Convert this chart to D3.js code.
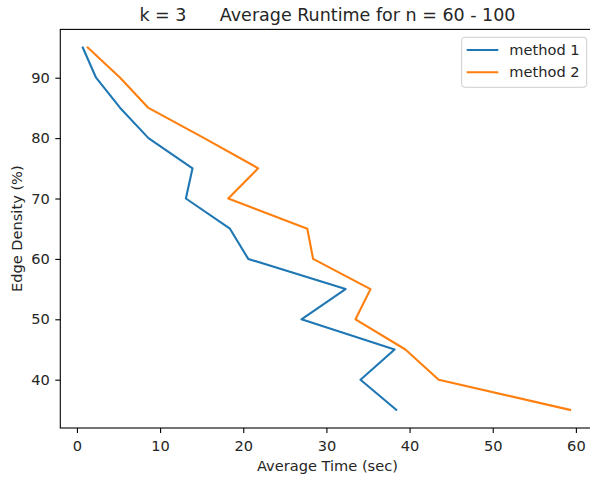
<!DOCTYPE html>
<html>
<head>
<meta charset="utf-8">
<script src="https://cdn.jsdelivr.net/npm/d3@7"></script>
<style>
  body { margin: 0; background: #fff; }
  svg { font-family: "DejaVu Sans", sans-serif; }
</style>
</head>
<body>
<svg id="chart" width="590" height="477"></svg>
<script>
// edge density levels (y) and average runtimes (x)
let densities = [95, 90, 85, 80, 75, 70, 65, 60, 55, 50, 45, 40, 35];
let method1Times = [0.7, 2.3, 5.2, 8.6, 13.9, 13.1, 18.4, 20.6, 32.3, 27.0, 38.2, 34.1, 38.4];
let method2Times = [1.3, 5.2, 8.6, 15.3, 21.8, 18.2, 27.7, 28.4, 35.3, 33.5, 39.5, 43.5, 59.3];
let seriesNames = ['method 1', 'method 2'];
let seriesColors = ['#1f77b4', '#ff7f0e'];
let xTicks = [0, 10, 20, 30, 40, 50, 60];
let yTicks = [40, 50, 60, 70, 80, 90];

const svg = d3.select('#chart');
// axes box (right edge runs off the canvas)
const axLeft = 60.3, axRight = 594.6, axTop = 29.4, axBottom = 428;
const fontSize = 14.6;

const x = d3.scaleLinear().domain([-2.0, 62.25]).range([axLeft, axRight]);
const y = d3.scaleLinear().domain([32, 98]).range([axBottom, axTop]);

// one series = list of [time, density]
let series = [method1Times, method2Times].map(times => times.map((t, i) => [t, densities[i]]));

const line = d3.line().x(d => x(d[0])).y(d => y(d[1]));

svg.append('g').selectAll('path')
    .data(series)
    .enter().append('path')
    .attr('d', line)
    .attr('fill', 'none')
    .attr('stroke', (d, i) => seriesColors[i])
    .attr('stroke-width', 2.1)
    .attr('stroke-linejoin', 'round')
    .attr('stroke-linecap', 'square');

// axes
const xAxis = d3.axisBottom(x).tickValues(xTicks).tickSize(5).tickPadding(7.5);
const yAxis = d3.axisLeft(y).tickValues(yTicks).tickSize(5).tickPadding(5.5);

const gx = svg.append('g').attr('transform', `translate(0,${axBottom})`).call(xAxis);
const gy = svg.append('g').attr('transform', `translate(${axLeft},0)`).call(yAxis);
[gx, gy].forEach(g => {
    g.select('.domain').remove();
    g.selectAll('line').attr('stroke', '#000').attr('stroke-width', 1.1);
    g.selectAll('text').attr('font-size', fontSize).attr('fill', '#262626').attr('font-family', '"DejaVu Sans"');
});

// frame
svg.append('rect')
    .attr('x', axLeft).attr('y', axTop)
    .attr('width', axRight - axLeft).attr('height', axBottom - axTop)
    .attr('fill', 'none').attr('stroke', '#000').attr('stroke-width', 1.1);

// labels
svg.append('text')
    .attr('x', (axLeft + axRight) / 2).attr('y', 471)
    .attr('text-anchor', 'middle').attr('font-size', fontSize).attr('fill', '#262626')
    .text('Average Time (sec)');

svg.append('text')
    .attr('transform', `translate(22,${(axTop + axBottom) / 2}) rotate(-90)`)
    .attr('text-anchor', 'middle').attr('font-size', fontSize).attr('fill', '#262626')
    .text('Edge Density (%)');

svg.append('text')
    .attr('x', (axLeft + axRight) / 2).attr('y', 21)
    .attr('text-anchor', 'middle').attr('font-size', 17.5).attr('fill', '#262626')
    .style('white-space', 'pre')
    .text('k = 3      Average Runtime for n = 60 - 100');

// legend
const legend = svg.append('g').attr('transform', 'translate(461.7,37.3)');
legend.append('rect')
    .attr('width', 125).attr('height', 50).attr('rx', 3)
    .attr('fill', '#fff').attr('fill-opacity', 0.8)
    .attr('stroke', '#cccccc').attr('stroke-width', 1);

const items = legend.selectAll('g.item')
    .data(seriesNames)
    .enter().append('g')
    .attr('class', 'item')
    .attr('transform', (d, i) => `translate(0,${12.7 + i * 22.3})`);
items.append('line')
    .attr('x1', 5).attr('x2', 36.6)
    .attr('stroke', (d, i) => seriesColors[i]).attr('stroke-width', 2.1);
items.append('text')
    .attr('x', 47.6).attr('dy', '0.35em')
    .attr('font-size', fontSize).attr('fill', '#262626')
    .text(d => d);
</script>
</body>
</html>
